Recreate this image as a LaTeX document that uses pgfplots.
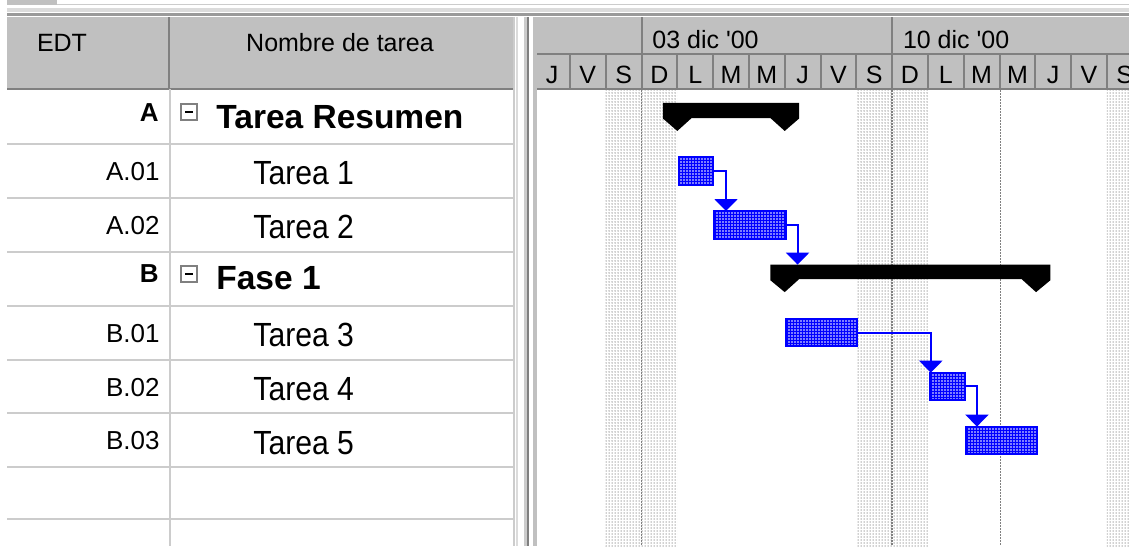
\documentclass[border=0pt]{standalone}
\usepackage{fontspec}
\setmainfont{Liberation Sans}
\newfontfamily\narrowfont[FakeStretch=0.9]{Liberation Sans}
\usepackage{pgfplots}
\pgfplotsset{compat=1.18}
\usetikzlibrary{arrows.meta,patterns.meta}

\definecolor{hdr}{RGB}{192,192,192}
\definecolor{hdrline}{RGB}{128,128,128}
\definecolor{gridc}{RGB}{204,204,204}
\definecolor{msblue}{RGB}{0,0,255}
\definecolor{dotc}{RGB}{165,165,165}

\newcommand\hdrsize{\fontsize{12.5}{15}\selectfont}
\newcommand\codefont{\fontsize{13}{15}\selectfont}
\newcommand\namefont{\narrowfont\fontsize{16.75}{20}\selectfont}
\newcommand\sumfont{\bfseries\fontsize{16.75}{20}\selectfont}

\tikzset{wkend/.style={pattern={Dots[distance=1.5pt,radius=0.38pt]}, pattern color=dotc}}

\begin{document}
\begin{tikzpicture}[x=0.5pt,y=-0.5pt]
\useasboundingbox (0,0) rectangle (1129,546);
\clip (0,0) rectangle (1129,546);
\fill[white] (0,0) rectangle (1129,546);

% top strip
\fill[hdr] (7,0) rectangle (57,5);
\draw[gridc, line width=0.5pt] (57,4.5) -- (1129,4.5);
\fill[gridc!70] (7,8) rectangle (1129,12);
\fill[hdrline!80] (7,13) rectangle (1129,16);

% header band
\fill[hdr] (7,17) rectangle (514,89);
\fill[hdr] (537,17) rectangle (1129,89);
\draw[hdrline, line width=1pt] (7,89) -- (514,89);
\draw[hdrline, line width=1pt] (537,89) -- (1129,89);
\draw[hdrline, line width=1pt] (169,17) -- (169,89);
\draw[hdrline, line width=1pt] (537,54) -- (1129,54);
\foreach \d in {-2,...,13}
  \draw[hdrline, line width=1pt] ({641.5+35.8*\d},54) -- ({641.5+35.8*\d},89);
\draw[hdrline, line width=1pt] (641.5,17) -- (641.5,54);
\draw[hdrline, line width=1pt] (892.1,17) -- (892.1,54);

\node[anchor=base, inner sep=0, font=\hdrsize] at (62,51) {EDT};
\node[anchor=base, inner sep=0, font=\hdrsize] at (340,51) {Nombre de tarea};
\node[anchor=base west, inner sep=0, font=\hdrsize] at (652,48) {03 dic \textquotesingle00};
\node[anchor=base west, inner sep=0, font=\hdrsize] at (902.6,48) {10 dic \textquotesingle00};
\foreach \l [count=\i from -3] in {J,V,S,D,L,M,M,J,V,S,D,L,M,M,J,V,S}
  \node[anchor=base, inner sep=0, font=\hdrsize] at ({641.5+35.8*(\i+0.5)},83) {\l};

% table grid
\foreach \yy in {143.9,197.8,251.7,305.6,359.5,413.4,467.3,519}
  \draw[gridc, line width=1pt] (7,\yy) -- (514,\yy);
\draw[gridc, line width=1pt] (170,89) -- (170,546);
\draw[gridc, line width=1pt] (514,17) -- (514,546);

% split bar
\fill[gridc!70] (516,17) rectangle (518,546);
\fill[gridc] (524,17) rectangle (527,546);
\fill[hdrline] (527,17) rectangle (529,546);
\fill[hdr] (533,17) rectangle (537,546);

% EDT column
\node[anchor=base east, inner sep=0, font=\codefont\bfseries] at (159,121) {A};
\node[anchor=base east, inner sep=0, font=\codefont] at (160,180.3) {A.01};
\node[anchor=base east, inner sep=0, font=\codefont] at (160,234.2) {A.02};
\node[anchor=base east, inner sep=0, font=\codefont\bfseries] at (159,282.7) {B};
\node[anchor=base east, inner sep=0, font=\codefont] at (160,342) {B.01};
\node[anchor=base east, inner sep=0, font=\codefont] at (160,396) {B.02};
\node[anchor=base east, inner sep=0, font=\codefont] at (160,449.9) {B.03};

% task names
\draw[hdrline, fill=white, line width=1pt] (181,104) rectangle (197,120);
\draw[black, line width=1pt] (185,112) -- (193,112);
\draw[hdrline, fill=white, line width=1pt] (181,265.7) rectangle (197,281.7);
\draw[black, line width=1pt] (185,273.7) -- (193,273.7);
\node[anchor=base west, inner sep=0, font=\sumfont] at (216,128) {Tarea Resumen};
\node[anchor=base west, inner sep=0, font=\namefont] at (253,184.85) {Tarea 1};
\node[anchor=base west, inner sep=0, font=\namefont] at (253,238.75) {Tarea 2};
\node[anchor=base west, inner sep=0, font=\sumfont] at (216,289.7) {Fase 1};
\node[anchor=base west, inner sep=0, font=\namefont] at (253,346.5) {Tarea 3};
\node[anchor=base west, inner sep=0, font=\namefont] at (253,400.5) {Tarea 4};
\node[anchor=base west, inner sep=0, font=\namefont] at (253,454.4) {Tarea 5};

\coordinate (ganttorigin) at (537,90);

% Gantt area: x in days from Sun 03 dic, y in rows
\begin{axis}[
  at={(ganttorigin)}, anchor=north west,
  width=296pt, height=228pt, scale only axis,
  xmin=-2.919, xmax=13.617, ymin=0.5, ymax=8.96,
  y dir=reverse, hide axis,
]
% weekends
\fill[wkend] (axis cs:-1,0.5) rectangle (axis cs:1,8.96);
\fill[wkend] (axis cs:6,0.5) rectangle (axis cs:8,8.96);
\fill[wkend] (axis cs:13,0.5) rectangle (axis cs:13.617,8.96);
\draw[hdrline, line width=0.75pt, dash pattern=on 0.75pt off 0.75pt] (axis cs:0,0.5) -- (axis cs:0,8.96);
\draw[hdrline, line width=0.75pt, dash pattern=on 0.75pt off 0.75pt] (axis cs:7,0.5) -- (axis cs:7,8.96);
\draw[hdrline, line width=0.75pt, dash pattern=on 0.75pt off 0.75pt] (axis cs:10.03,0.5) -- (axis cs:10.03,8.96);

% summary bars
\addplot[fill=black, draw=none] coordinates {
  (0.6,0.74) (4.4,0.74) (4.4,1.03) (4.0,1.26) (3.6,1.02) (1.4,1.02) (1.0,1.26) (0.6,1.03)} --cycle;
\addplot[fill=black, draw=none] coordinates {
  (3.6,3.74) (11.42,3.74) (11.42,4.03) (11.02,4.25) (10.62,4.01) (4.4,4.01) (4.0,4.25) (3.6,4.03)} --cycle;

% tasks
\pgfplotsset{task/.style={draw=msblue, line width=1pt, fill=msblue,
  postaction={pattern={Dots[distance=1.5pt,radius=0.42pt]}, pattern color=white}}}
\addplot[task] coordinates {(1.05,1.745) (2.0,1.745) (2.0,2.255) (1.05,2.255)} --cycle;
\addplot[task] coordinates {(2.03,2.745) (4.03,2.745) (4.03,3.255) (2.03,3.255)} --cycle;
\addplot[task] coordinates {(4.03,4.745) (6.02,4.745) (6.02,5.255) (4.03,5.255)} --cycle;
\addplot[task] coordinates {(8.05,5.745) (9.03,5.745) (9.03,6.255) (8.05,6.255)} --cycle;
\addplot[task] coordinates {(9.05,6.745) (11.05,6.745) (11.05,7.255) (9.05,7.255)} --cycle;

% links
\pgfplotsset{link/.style={msblue, line width=1pt, -{Triangle[width=11.5pt,length=6pt]}}}
\addplot[link] coordinates {(2.0,2) (2.36,2) (2.36,2.745)};
\addplot[link] coordinates {(4.03,3) (4.36,3) (4.36,3.74)};
\addplot[link] coordinates {(6.02,5) (8.08,5) (8.08,5.745)};
\addplot[link] coordinates {(9.03,6) (9.37,6) (9.37,6.745)};
\end{axis}
\end{tikzpicture}
\end{document}
